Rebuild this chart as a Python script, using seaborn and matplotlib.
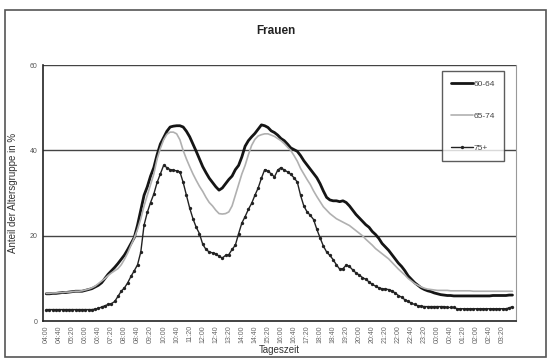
import numpy as np
import pandas as pd
import seaborn as sns
import matplotlib.pyplot as plt
from matplotlib.patches import Rectangle

# 10-minute steps from 04:00 to 03:50
times = [f"{(4 + m // 60) % 24:02d}:{m % 60:02d}" for m in range(0, 1440, 10)]

f_60_64 = [6.4, 6.4, 6.5, 6.5, 6.6, 6.7, 6.7, 6.8, 6.9, 7.0, 7.0, 7.0, 7.2, 7.4, 7.6, 8.0,
           8.4, 9.0, 10.0, 11.0, 11.8, 12.6, 13.5, 14.5, 15.5, 16.8, 18.2, 19.6, 22.5, 26.0,
           29.5, 31.5, 34.0, 36.0, 39.0, 41.5, 43.0, 44.5, 45.5, 45.7, 45.8, 45.8, 45.5, 44.5,
           43.2, 41.5, 39.8, 38.0, 36.2, 34.8, 33.5, 32.5, 31.5, 30.7, 31.2, 32.2, 33.2, 34.0,
           35.5, 36.5, 38.5, 41.0, 42.3, 43.2, 44.0, 45.0, 46.0, 45.8, 45.4, 44.6, 44.2, 43.6,
           42.8, 42.3, 41.5, 40.6, 40.2, 39.8, 38.8, 37.6, 36.6, 35.6, 34.6, 33.6, 32.2, 30.5,
           29.0, 28.4, 28.2, 28.2, 28.0, 28.2, 27.8, 27.0, 26.0, 25.0, 24.2, 23.4, 22.6, 22.0,
           21.0, 20.3, 19.4, 18.2, 17.4, 16.6, 15.6, 14.6, 13.6, 12.8, 11.8, 10.6, 9.8, 9.0,
           8.4, 7.8, 7.4, 7.1, 6.9, 6.6, 6.4, 6.2, 6.1, 6.0, 6.0, 5.9, 5.9, 5.9, 5.9, 5.9,
           5.9, 5.9, 5.9, 5.9, 5.9, 5.9, 5.9, 6.0, 6.0, 6.0, 6.0, 6.0, 6.1, 6.1]

f_65_74 = [6.5, 6.5, 6.6, 6.6, 6.7, 6.7, 6.8, 6.8, 6.9, 7.0, 7.0, 7.1, 7.3, 7.5, 7.8, 8.2,
           8.8, 9.4, 10.0, 10.7, 11.3, 11.8, 12.3, 13.2, 14.5, 16.0, 17.8, 19.5, 21.5, 24.0,
           27.0, 29.5, 32.0, 34.5, 38.0, 40.5, 42.5, 43.8, 44.3, 44.3, 43.9, 42.5, 40.0, 38.0,
           36.2, 34.5, 33.0, 31.6, 30.4, 29.0, 27.8, 27.0, 26.0, 25.2, 25.1, 25.2, 25.6, 27.0,
           29.5, 32.0, 34.5, 36.5, 39.0, 41.2, 42.6, 43.4, 43.7, 43.9, 43.9, 43.6, 43.3, 42.8,
           42.3, 41.6, 40.8, 40.0, 38.8, 37.5, 35.8, 34.5, 33.2, 32.0, 30.5, 29.2, 28.0, 26.8,
           26.0, 25.2, 24.6, 24.0, 23.6, 23.2, 22.8, 22.4, 21.8, 21.2, 20.6, 20.0, 19.2, 18.5,
           17.8, 17.0, 16.4, 15.8, 15.2, 14.6, 13.8, 13.0, 12.2, 11.5, 10.8, 10.0, 9.4, 8.8,
           8.4, 8.0, 7.7, 7.5, 7.4, 7.3, 7.2, 7.2, 7.2, 7.2, 7.1, 7.1, 7.1, 7.1, 7.1, 7.1,
           7.1, 7.0, 7.0, 7.0, 7.0, 7.0, 7.0, 7.0, 7.0, 7.0, 7.0, 7.0, 7.0, 7.0]

f_75 = [2.7, 2.7, 2.7, 2.7, 2.7, 2.7, 2.7, 2.7, 2.7, 2.7, 2.7, 2.7, 2.7, 2.7, 2.7, 2.8,
        3.0, 3.3, 3.6, 3.9, 4.1, 4.6, 5.8, 7.0, 7.8, 9.0, 10.5, 11.8, 13.2, 16.2,
        22.5, 25.5, 27.8, 29.8, 32.5, 34.5, 36.5, 36.0, 35.5, 35.4, 35.2, 35.0, 32.5, 29.5,
        26.5, 24.0, 22.0, 20.5, 18.0, 16.8, 16.2, 16.0, 15.8, 15.2, 14.8, 15.4, 15.6, 16.8,
        17.8, 20.5, 23.0, 24.5, 26.2, 27.6, 29.5, 31.2, 33.5, 35.5, 35.2, 34.5, 33.8, 35.4,
        36.0, 35.4, 35.0, 34.4, 33.6, 32.6, 29.5, 27.0, 25.6, 24.8, 23.8, 21.5, 19.5, 17.6,
        16.2, 15.4, 14.4, 13.2, 12.2, 12.3, 13.1, 12.8, 12.0, 11.3, 10.8, 10.2, 9.8, 9.2,
        8.6, 8.2, 7.8, 7.6, 7.5, 7.4, 7.1, 6.6, 6.0, 5.6, 5.0, 4.6, 4.2, 3.9,
        3.6, 3.5, 3.4, 3.4, 3.4, 3.4, 3.4, 3.4, 3.4, 3.2, 3.2, 3.2, 2.9, 2.9, 2.9, 2.9,
        2.9, 2.9, 2.9, 2.9, 2.9, 2.9, 2.9, 2.9, 2.9, 2.9, 2.9, 2.9, 3.1, 3.4]

sns.set_style("white")
plt.rcParams['font.family'] = ['Liberation Sans', 'DejaVu Sans']

fig = plt.figure(figsize=(5.51, 3.62), dpi=100)
ax = fig.add_axes([0.078, 0.113, 0.858, 0.707])

x = np.arange(len(times))
sns.lineplot(x=x, y=f_60_64, ax=ax, color="#151515", linewidth=2.0, label="60-64")
sns.lineplot(x=x, y=f_65_74, ax=ax, color="#b0b0b0", linewidth=1.2, label="65-74")
sns.lineplot(x=x, y=f_75, ax=ax, color="#222222", linewidth=1.0, marker="o",
             markersize=2.4, markeredgewidth=0, label="75+")

ax.set_xlim(-1, len(times))
ax.set_ylim(0, 60)
ax.set_yticks([0, 20, 40, 60])
ax.set_yticklabels(["0", "20", "40", "60"], fontsize=5, color="#555555")
for yv in [20, 40, 60]:
    ax.axhline(yv, color="#444444", linewidth=1.0, zorder=0)

ax.set_xticks(x, minor=True)
ax.set_xticks(x[::4])
ax.set_xticklabels(times[::4], rotation=90, fontsize=5, color="#666666")
ax.tick_params(axis="x", which="both", direction="out", length=2, width=0.6, color="#333333", pad=1)
ax.tick_params(axis="y", direction="out", length=2, width=0.6, color="#333333", pad=2)

for side in ["left", "bottom"]:
    ax.spines[side].set_color("#222222")
    ax.spines[side].set_linewidth(1.2)
ax.spines["top"].set_visible(False)
ax.spines["right"].set_color("#999999")
ax.spines["right"].set_linewidth(0.8)

ax.set_xlabel("Tageszeit", fontsize=7, color="#333333", labelpad=1)
ax.set_ylabel("Anteil der Altersgruppe in %", fontsize=7, color="#333333", labelpad=8)
fig.text(0.5, 0.915, "Frauen", ha="center", va="center", fontsize=8.5, fontweight="bold", color="#222222")

leg = ax.legend(loc="upper left", bbox_to_anchor=(0.802, 0.804), bbox_transform=fig.transFigure,
                fontsize=6, frameon=True, fancybox=False, labelspacing=2.9, handlelength=2.6,
                handletextpad=0.1, borderpad=1.1, borderaxespad=0)
leg.get_frame().set_edgecolor("#333333")
leg.get_frame().set_linewidth(1.0)
for t in leg.get_texts():
    t.set_color("#444444")

fig.patches.append(Rectangle((0.009, 0.014), 0.982, 0.958, transform=fig.transFigure,
                             fill=False, edgecolor="#555555", linewidth=1.2))

fig.savefig("out.png", dpi=100)
